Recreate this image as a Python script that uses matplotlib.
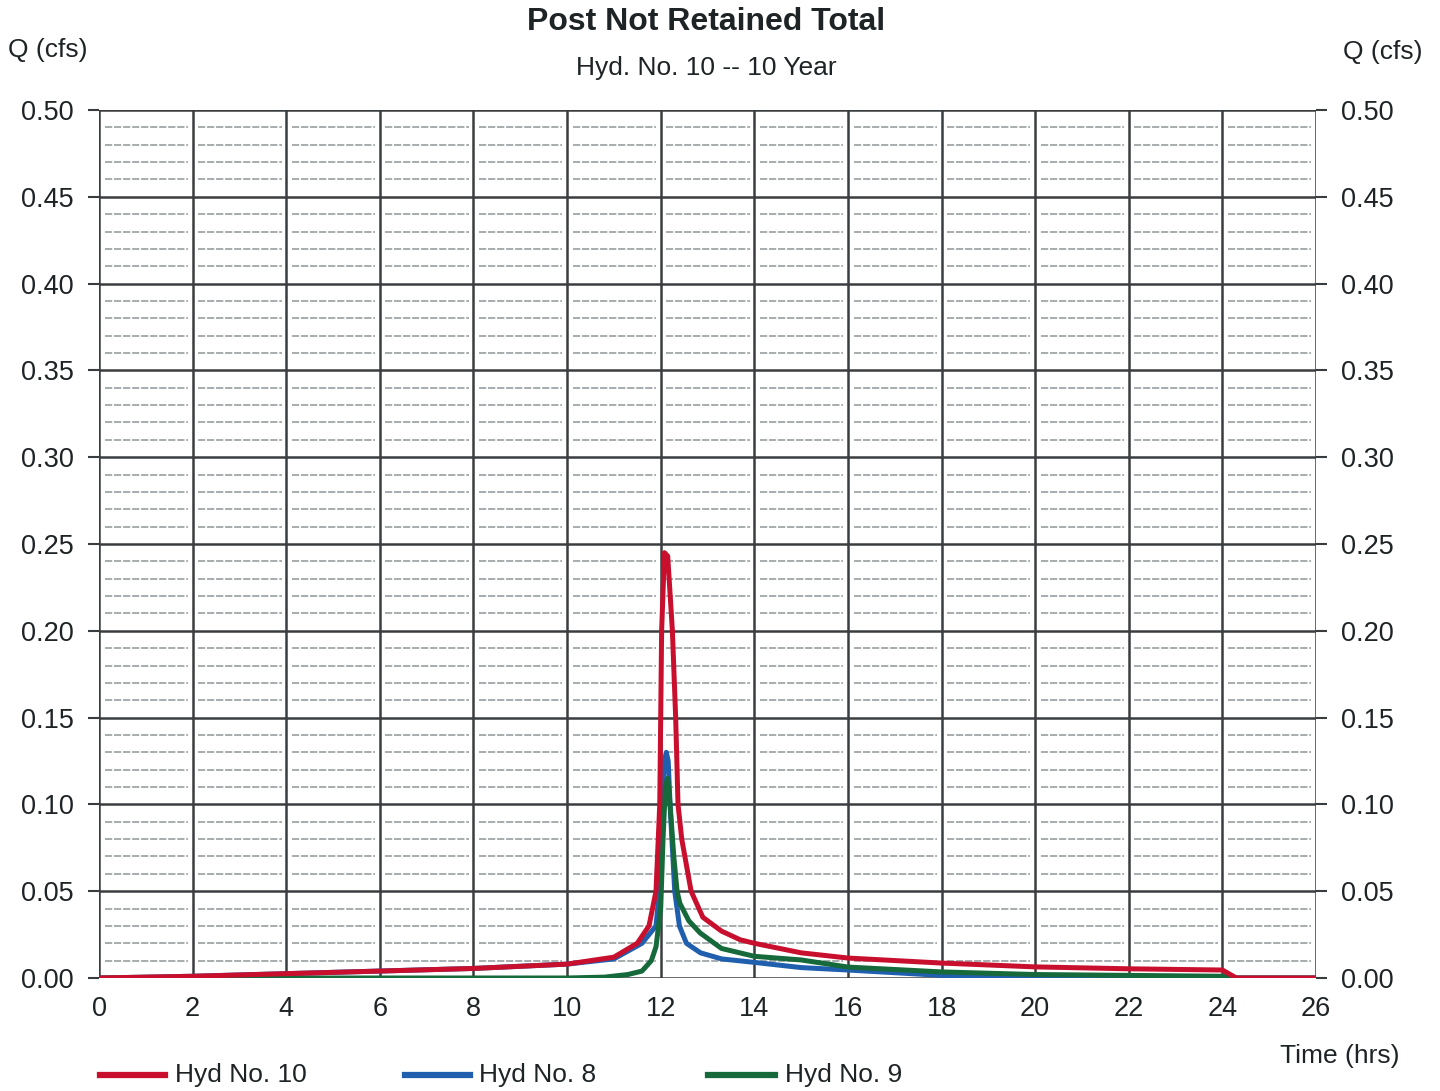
import matplotlib
matplotlib.use("Agg")
import matplotlib.pyplot as plt
from matplotlib.lines import Line2D
import numpy as np

plt.rcParams['font.family'] = ['Liberation Sans', 'DejaVu Sans']

# Hydrograph ordinates (time in hrs, flow in cfs)
t_hyd10 = [0, 2, 4, 6, 8, 10, 11, 11.5, 11.75, 11.9, 11.98, 12.02, 12.08, 12.15, 12.25,
           12.32, 12.37, 12.45, 12.65, 12.9, 13.3, 13.7, 14, 15, 16, 18, 20, 22, 24, 24.3, 26]
q_hyd10 = [0.0, 0.001, 0.0025, 0.004, 0.0055, 0.008, 0.012, 0.020, 0.030, 0.050, 0.10,
           0.20, 0.245, 0.243, 0.20, 0.15, 0.10, 0.080, 0.050, 0.035, 0.027, 0.022, 0.020,
           0.0145, 0.0115, 0.0086, 0.0064, 0.0053, 0.0046, 0.0, 0.0]

t_hyd8 = [0, 2, 4, 6, 8, 10, 11, 11.6, 11.9, 11.97, 12.02, 12.08, 12.12, 12.16, 12.2,
          12.3, 12.4, 12.55, 12.85, 13.3, 14, 15, 16, 18, 20, 22, 24, 24.3, 26]
q_hyd8 = [0.0, 0.001, 0.0025, 0.004, 0.0055, 0.008, 0.011, 0.020, 0.030, 0.050, 0.10,
          0.125, 0.13, 0.125, 0.10, 0.05, 0.03, 0.02, 0.0145, 0.011, 0.009,
          0.006, 0.0046, 0.0015, 0.001, 0.0008, 0.0006, 0.0, 0.0]

t_hyd9 = [0, 2, 4, 6, 8, 10, 10.8, 11.3, 11.6, 11.8, 11.9, 12.0, 12.05, 12.1, 12.15,
          12.2, 12.28, 12.35, 12.41, 12.6, 12.84, 13.3, 14, 15, 16, 18, 20, 22, 24, 24.3, 26]
q_hyd9 = [0.0, 0.0, 0.0, 0.0, 0.0, 0.0, 0.0005, 0.002, 0.004, 0.010, 0.018, 0.040,
          0.080, 0.110, 0.115, 0.100, 0.070, 0.050, 0.043, 0.033, 0.026, 0.017, 0.0125,
          0.0104, 0.0063, 0.0035, 0.002, 0.0015, 0.001, 0.0, 0.0]

x_ticks = list(range(0, 27, 2))
y_ticks = [0.00, 0.05, 0.10, 0.15, 0.20, 0.25, 0.30, 0.35, 0.40, 0.45, 0.50]
y_labels = ["0.00", "0.05", "0.10", "0.15", "0.20", "0.25", "0.30", "0.35", "0.40", "0.45", "0.50"]

series_labels = ["Hyd No. 10", "Hyd No. 8", "Hyd No. 9"]

c10 = "#c8102e"
c8 = "#1f5fae"
c9 = "#16693a"
grid_c = "#3a3d3f"
text_c = "#1e2326"

fig = plt.figure(figsize=(14.4, 10.91), dpi=100)
ax = fig.add_axes([99 / 1440, 1 - 978 / 1091, (1316 - 99) / 1440, (978 - 110) / 1091])
ax.set_xlim(0, 26)
ax.set_ylim(0, 0.5)

# minor horizontal dashed lines, broken at each major vertical
for yv in np.arange(0.01, 0.5, 0.01):
    if abs(yv / 0.05 - round(yv / 0.05)) < 1e-6:
        continue
    for x0 in range(0, 26, 2):
        ax.plot([x0 + 0.12, x0 + 1.9], [yv, yv], color="#a0a6a8", lw=1.3,
                ls=(0, (4, 1)), zorder=1, solid_capstyle="butt")

# major grid
for xv in x_ticks:
    ax.axvline(xv, color=grid_c, lw=1.8, zorder=2)
for yv in y_ticks:
    ax.axhline(yv, color=grid_c, lw=1.8, zorder=2)

for sp in ax.spines.values():
    sp.set_visible(False)

ax.plot(t_hyd9, q_hyd9, color=c9, lw=3.6, zorder=4, solid_joinstyle="round")
ax.plot(t_hyd8, q_hyd8, color=c8, lw=3.6, zorder=3, solid_joinstyle="round")
ax.plot(t_hyd10, q_hyd10, color=c10, lw=3.6, zorder=5, solid_joinstyle="round")

ax.set_xticks(x_ticks)
ax.set_xticklabels([str(v) for v in x_ticks])
ax.set_yticks(y_ticks)
ax.set_yticklabels(y_labels)
ax.tick_params(axis="x", length=0, pad=13, labelsize=19.5, labelcolor=text_c)
ax.tick_params(axis="y", length=8, width=1.5, color=grid_c, pad=10, labelsize=19.5,
               labelcolor=text_c, left=True, right=True, labelleft=True, labelright=True)

fig.text(706 / 1440, 1 - 22 / 1091, "Post Not Retained Total", ha="center", va="center",
         fontsize=23, fontweight="bold", color=text_c)
fig.text(706 / 1440, 1 - 68 / 1091, "Hyd. No. 10 -- 10 Year", ha="center", va="center",
         fontsize=19, color=text_c)
fig.text(8 / 1440, 1 - 50 / 1091, "Q (cfs)", ha="left", va="center", fontsize=19, color=text_c)
fig.text(1343 / 1440, 1 - 52 / 1091, "Q (cfs)", ha="left", va="center", fontsize=19, color=text_c)
fig.text(1400 / 1440, 1 - 1056 / 1091, "Time (hrs)", ha="right", va="center", fontsize=19, color=text_c)

# legend entries along the bottom
leg_y = 1 - 1075 / 1091
for (x0, x1, xt), col, lab in zip([(100, 165, 175), (405, 470, 479), (708, 775, 785)],
                                  [c10, c8, c9], series_labels):
    fig.add_artist(Line2D([x0 / 1440, x1 / 1440], [leg_y, leg_y], color=col, lw=4.5,
                          transform=fig.transFigure))
    fig.text(xt / 1440, leg_y, lab, ha="left", va="center", fontsize=19, color=text_c)

fig.savefig("out.png", dpi=100, facecolor="white")
